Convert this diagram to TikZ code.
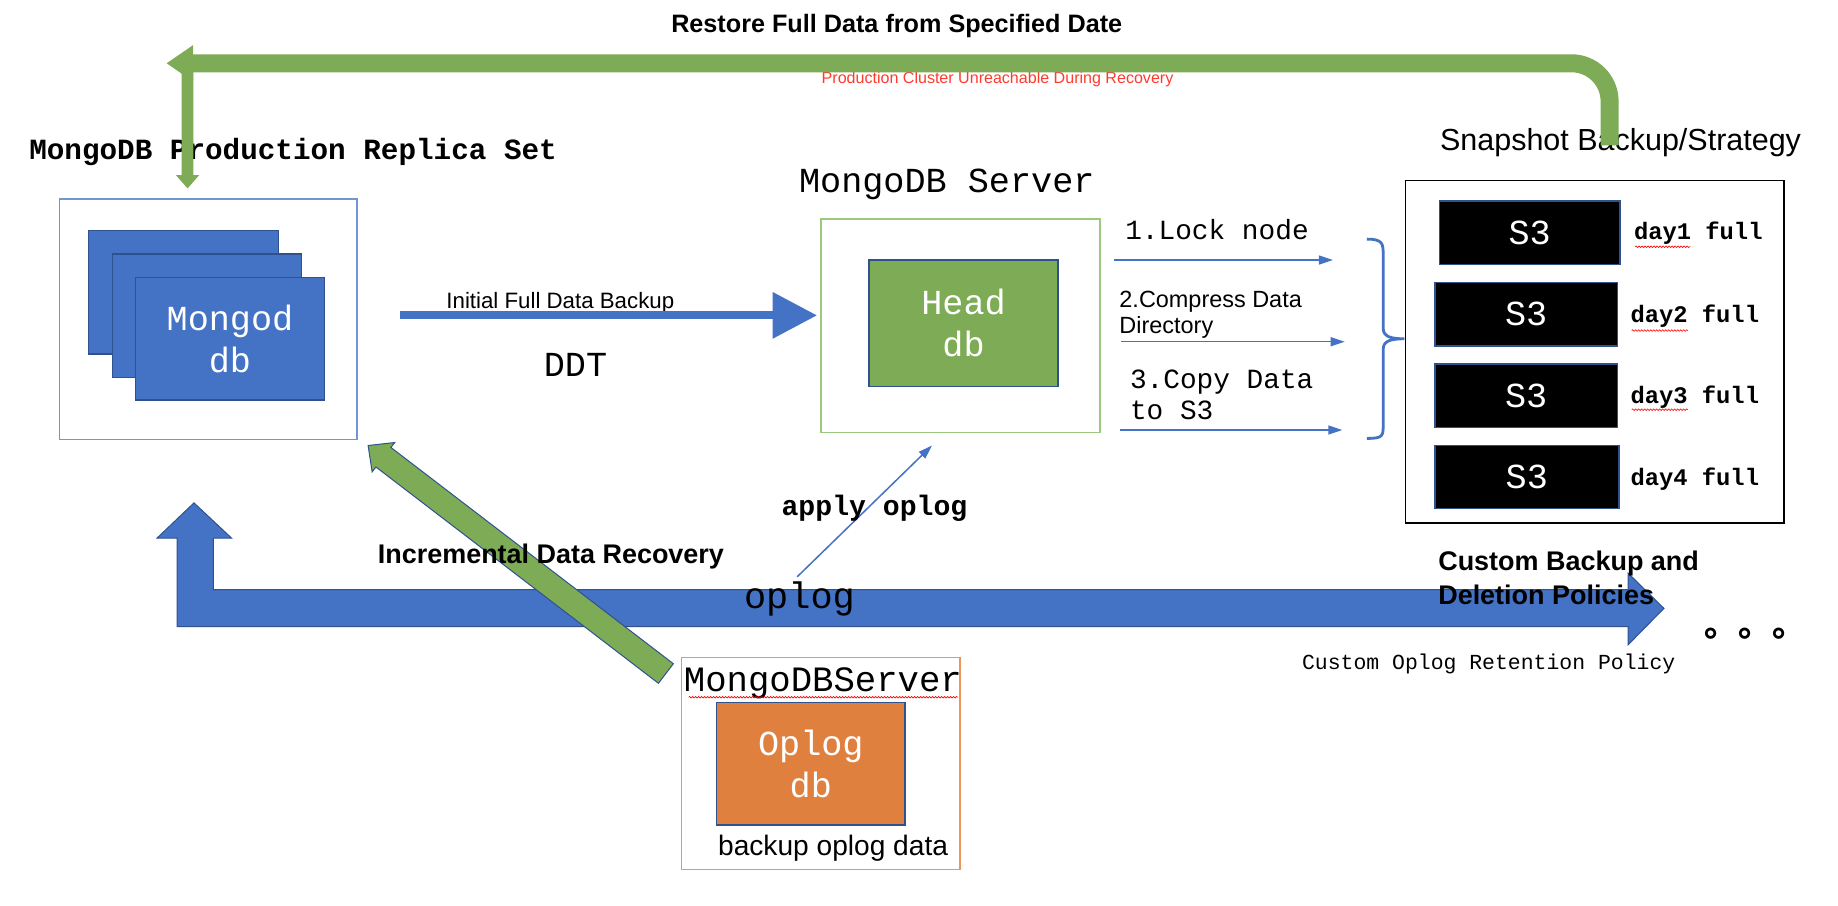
\documentclass[tikz,border=0pt]{standalone}
\usepackage{fontspec}
\setmainfont{Liberation Sans}
\setsansfont{Liberation Sans}
\setmonofont{Liberation Mono}
\newfontfamily\cjkfont{Noto Sans CJK SC}
\usetikzlibrary{arrows.meta,calc,decorations.pathmorphing}
\definecolor{oblue}{HTML}{4472C4}
\definecolor{dblue}{HTML}{2F528F}
\definecolor{lblue}{HTML}{7395D5}
\definecolor{ogreen}{HTML}{7EAB55}
\definecolor{lgreen}{HTML}{9CC87F}
\definecolor{oorange}{HTML}{E0803F}
\definecolor{lorange}{HTML}{EE955A}
\definecolor{rtxt}{HTML}{FF3B30}
\newcommand\fsz[2]{\fontsize{#1}{#2}\selectfont}
\begin{document}
\begin{tikzpicture}[x=1pt,y=-1pt,scale=1.1722,
  every node/.style={transform shape, inner sep=0pt, outer sep=0pt},
  dbrect/.style={draw=dblue, line width=1.3pt, text=white, align=center, font=\ttfamily\fsz{30}{35.6}},
  s3box/.style={fill=black, draw=dblue, line width=1.5pt, minimum width=156pt, minimum height=54pt, text=white, font=\ttfamily\fsz{30}{36}},
  daylbl/.style={anchor=west, font=\ttfamily\bfseries\fsz{20.3}{24}},
  steparrow/.style={oblue, line width=1.5pt, -{Triangle[length=14pt,width=9pt]}},
  wavy/.style={red, line width=0.6pt, decorate, decoration={snake, segment length=3pt, amplitude=0.8pt}},
  monolbl/.style={font=\ttfamily\fsz{30}{36}}
]
\useasboundingbox (0,0) rectangle (1568,772.9);

% titles
\node[font=\sffamily\bfseries\fsz{21.5}{25}] (restore) at (765,22) {Restore Full Data from Specified Date};
\node[text=rtxt, font=\sffamily\fsz{13.7}{16}] (unreach) at (851,68) {Production Cluster Unreachable During Recovery};
\node[anchor=west, font=\ttfamily\bfseries\fsz{25}{30}] (prodtitle) at (25,130) {MongoDB Production Replica Set};

% production replica set
\node[draw=lblue, line width=1.6pt, minimum width=253.7pt, minimum height=204.8pt] (prod) at (177.5,272.4) {};
\node[dbrect, fill=oblue, minimum width=162pt, minimum height=105pt] (rep1) at (156.4,249.4) {};
\node[dbrect, fill=oblue, minimum width=161.6pt, minimum height=105pt] (rep2) at (176.6,269.3) {};
\node[dbrect, fill=oblue, minimum width=161pt, minimum height=104.6pt] (rep3) at (196.2,288.9) {Mongod\\db};

% server
\node[monolbl] (srvtitle) at (807.7,157) {MongoDB Server};
\node[draw=lgreen, line width=1.6pt, minimum width=238pt, minimum height=182pt] (server) at (819.4,278) {};
\node[dbrect, fill=ogreen, minimum width=161.3pt, minimum height=108pt] (head) at (822,275.8) {Head\\db};

% initial backup
\node[font=\sffamily\fsz{19}{23}] (initlbl) at (478,258) {Initial Full Data Backup};
\coordinate (ibA) at (341,269);
\coordinate (ibB) at (697,269);
\draw[oblue, line width=8.2pt, -{Triangle[length=44.5pt,width=44.5pt]}] (ibA) -- (ibB);
\node[monolbl] (ddt) at (491,311) {DDT};

% steps
\node[anchor=west, font=\ttfamily\fsz{23.7}{27}] (step1) at (960,196) {1.Lock node};
\coordinate (a1s) at (950.5,221.8); \coordinate (a1e) at (1137,221.8);
\draw[steparrow] (a1s) -- (a1e);
\node[anchor=west, align=left, font=\sffamily\fsz{20}{22.6}] (step2) at (955,268.7) {2.Compress Data\\Directory};
\coordinate (a2s) at (956,291.5); \coordinate (a2e) at (1147,291.5);
\draw[steparrow] (a2s) -- (a2e);
\node[anchor=west, align=left, font=\ttfamily\fsz{23.7}{26.4}] (step3) at (964,336.6) {3.Copy Data\\to S3};
\coordinate (a3s) at (955.5,366.8); \coordinate (a3e) at (1145,366.8);
\draw[steparrow] (a3s) -- (a3e);

% brace
\draw[oblue, line width=2.8pt] (1166,204) .. controls (1180,204) and (1180,208) .. (1180,218) -- (1180,280)
  .. controls (1180,287) and (1186,289) .. (1198,289)
  .. controls (1186,289) and (1180,291) .. (1180,298) -- (1180,362)
  .. controls (1180,372) and (1180,374) .. (1166,374);

% snapshot
\node[font=\sffamily\fsz{26}{30}] (snaptitle) at (1382.5,122) {Snapshot Backup/Strategy};
\node[draw=black, line width=1.8pt, minimum width=323pt, minimum height=292pt] (snap) at (1360.5,300) {};
\node[s3box, minimum width=154pt] (s3a) at (1305,198.5) {S3};
\node[s3box] (s3b) at (1302,268) {S3};
\node[s3box] (s3c) at (1302,337.5) {S3};
\node[s3box, minimum width=157pt] (s3d) at (1302.5,407) {S3};
\node[daylbl] (d1) at (1394,199) {day1 full};
\node[daylbl] (d2) at (1391,270) {day2 full};
\node[daylbl] (d3) at (1391,339) {day3 full};
\node[daylbl] (d4) at (1391,409) {day4 full};
\draw[wavy] (1395,210.5) -- (1442,210.5);
\draw[wavy] (1392,282) -- (1440,282);
\draw[wavy] (1392,349.5) -- (1440,349.5);

% big blue L arrow
\filldraw[fill=oblue, draw=dblue, line width=1pt] (151,534.6) -- (151,459) -- (134,459) -- (165.5,429) -- (197.5,459) -- (182,459) -- (182,503) -- (1389,503) -- (1389,489) -- (1419.5,519) -- (1389,550) -- (1389,534.6) -- cycle;
\node[font=\ttfamily\fsz{31.5}{36}] (oploglbl) at (682,511) {oplog};

% apply oplog
\coordinate (apS) at (680,492);
\coordinate (apE) at (795,380);
\draw[steparrow] (apS) -- (apE);
\node[font=\ttfamily\bfseries\fsz{24}{28}] (applylbl) at (746,434) {apply oplog};

% oplog server
\node[draw=lorange, line width=1.6pt, minimum width=237.5pt, minimum height=181pt] (oplogsrv) at (700.3,651.4) {};
\node[font=\ttfamily\fsz{30.4}{36}] (oplogtitle) at (702,583) {MongoDBServer};
\draw[wavy] (587.5,594.8) -- (817,594.8);
\node[dbrect, fill=oorange, minimum width=160.6pt, minimum height=104.3pt] (oplogdb) at (691.7,651.6) {Oplog\\db};
\node[font=\sffamily\fsz{24}{28}] (bkp) at (710.7,723.6) {backup oplog data};

% green diagonal arrow
\coordinate (gT) at (314,380);
\coordinate (gB) at (568,574.5);
\coordinate (gH) at ($(gT)!16.4pt!(gB)$);
\filldraw[fill=ogreen, draw=dblue, line width=1pt]
  ($(gB)!10.5pt!90:(gT)$) -- ($(gH)!10.5pt!90:(gT)$) -- ($(gH)!15.8pt!90:(gT)$) -- (gT)
  -- ($(gH)!15.8pt!-90:(gT)$) -- ($(gH)!10.5pt!-90:(gT)$) -- ($(gB)!10.5pt!-90:(gT)$) -- cycle;
\node[font=\sffamily\bfseries\fsz{23}{27}] (incr) at (470,475) {Incremental Data Recovery};

% custom policies
\node[anchor=west, align=left, font=\sffamily\bfseries\fsz{23}{28.6}] (custbk) at (1227,493) {Custom Backup and\\Deletion Policies};
\node[anchor=base west, font=\cjkfont\bfseries\fsz{29}{30}] (dots) at (1454,543) {。。。};
\node[font=\ttfamily\fsz{18.3}{22}] (oplogpol) at (1270,566) {Custom Oplog Retention Policy};

% top green restore arrow
\coordinate (rsA) at (1373,124);
\coordinate (rsB) at (164,54);
\draw[ogreen, line width=18pt, rounded corners=38pt] (rsA) |- (rsB);
\fill[ogreen] (164.7,38.5) -- (142.2,54) -- (164.7,69.5) -- cycle;
\coordinate (vgA) at (160,54);
\coordinate (vgB) at (160,160.7);
\fill[ogreen] (155,54) -- (155,149.3) -- (150,149.3) -- (vgB) -- (170,149.3) -- (165,149.3) -- (165,54) -- cycle;
\end{tikzpicture}
\end{document}
